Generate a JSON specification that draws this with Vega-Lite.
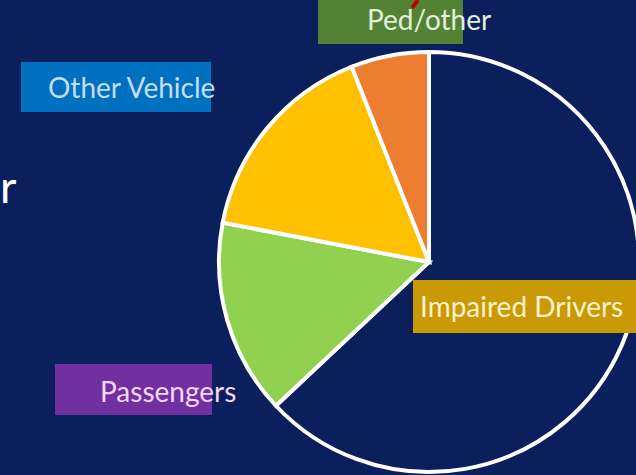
{
  "$schema": "https://vega.github.io/schema/vega-lite/v6.json",
  "width": 636,
  "height": 475,
  "autosize": "none",
  "padding": 0,
  "background": "#0A1F5C",
  "config": {"view": {"stroke": null}, "axis": {"disable": true}},
  "datasets": {
    "shares": [
      {"category": "Impaired Drivers", "share": 63, "rank": 1},
      {"category": "Passengers", "share": 15, "rank": 2},
      {"category": "Other Vehicle", "share": 16, "rank": 3},
      {"category": "Ped/other", "share": 6, "rank": 4}
    ],
    "labels": [
      {"label": "Ped/other", "bx": 318, "bx2": 463, "by": 0, "by2": 44, "tx": 367, "ty": 30},
      {"label": "Other Vehicle", "bx": 21, "bx2": 211, "by": 62, "by2": 112, "tx": 48, "ty": 98},
      {"label": "Passengers", "bx": 55, "bx2": 212, "by": 364, "by2": 415, "tx": 100, "ty": 402},
      {"label": "Impaired Drivers", "bx": 413, "bx2": 636, "by": 280, "by2": 333, "tx": 420, "ty": 317}
    ],
    "fragment": [{"word": "r", "px": 0, "py": 203}]
  },
  "resolve": {"scale": {"color": "independent"}},
  "layer": [
    {
      "data": {"name": "shares"},
      "mark": {"type": "arc", "outerRadius": 210, "stroke": "white", "strokeWidth": 4},
      "encoding": {
        "x": {"datum": 429, "type": "quantitative", "scale": {"domain": [0, 636], "nice": false, "zero": false}, "axis": null},
        "y": {"datum": 262, "type": "quantitative", "scale": {"domain": [0, 475], "nice": false, "zero": false, "reverse": true}, "axis": null},
        "theta": {"field": "share", "type": "quantitative", "stack": true},
        "order": {"field": "rank", "type": "quantitative"},
        "color": {
          "field": "category",
          "type": "nominal",
          "scale": {"domain": ["Impaired Drivers", "Passengers", "Other Vehicle", "Ped/other"], "range": ["#0A1F5C", "#92D050", "#FFC000", "#ED7D31"]},
          "legend": null
        }
      }
    },
    {
      "data": {"name": "labels"},
      "mark": {"type": "rect"},
      "encoding": {
        "x": {"field": "bx", "type": "quantitative", "scale": {"domain": [0, 636], "nice": false, "zero": false}, "axis": null},
        "x2": {"field": "bx2"},
        "y": {"field": "by", "type": "quantitative", "scale": {"domain": [0, 475], "nice": false, "zero": false, "reverse": true}, "axis": null},
        "y2": {"field": "by2"},
        "color": {
          "field": "label",
          "type": "nominal",
          "scale": {"domain": ["Impaired Drivers", "Passengers", "Other Vehicle", "Ped/other"], "range": ["#C99A06", "#7030A0", "#0070C0", "#548235"]},
          "legend": null
        }
      }
    },
    {
      "data": {"values": [{}]},
      "mark": {"type": "rule", "color": "#C00000", "strokeWidth": 4},
      "encoding": {
        "x": {"datum": 412, "type": "quantitative", "scale": {"domain": [0, 636], "nice": false, "zero": false}, "axis": null},
        "y": {"datum": 8, "type": "quantitative", "scale": {"domain": [0, 475], "nice": false, "zero": false, "reverse": true}, "axis": null},
        "x2": {"datum": 418},
        "y2": {"datum": 0}
      }
    },
    {
      "data": {"name": "labels"},
      "mark": {"type": "text", "align": "left", "baseline": "alphabetic", "font": "Lato", "fontSize": 28},
      "encoding": {
        "x": {"field": "tx", "type": "quantitative", "scale": {"domain": [0, 636], "nice": false, "zero": false}, "axis": null},
        "y": {"field": "ty", "type": "quantitative", "scale": {"domain": [0, 475], "nice": false, "zero": false, "reverse": true}, "axis": null},
        "text": {"field": "label"},
        "color": {
          "field": "label",
          "type": "nominal",
          "scale": {"domain": ["Impaired Drivers", "Passengers", "Other Vehicle", "Ped/other"], "range": ["#FFF2CC", "#F2D6F8", "#C5DDF2", "#E2F0D9"]},
          "legend": null
        }
      }
    },
    {
      "data": {"name": "fragment"},
      "mark": {"type": "text", "align": "left", "baseline": "alphabetic", "font": "Lato", "fontSize": 45, "color": "white"},
      "encoding": {
        "x": {"field": "px", "type": "quantitative", "scale": {"domain": [0, 636], "nice": false, "zero": false}, "axis": null},
        "y": {"field": "py", "type": "quantitative", "scale": {"domain": [0, 475], "nice": false, "zero": false, "reverse": true}, "axis": null},
        "text": {"field": "word"}
      }
    }
  ]
}
